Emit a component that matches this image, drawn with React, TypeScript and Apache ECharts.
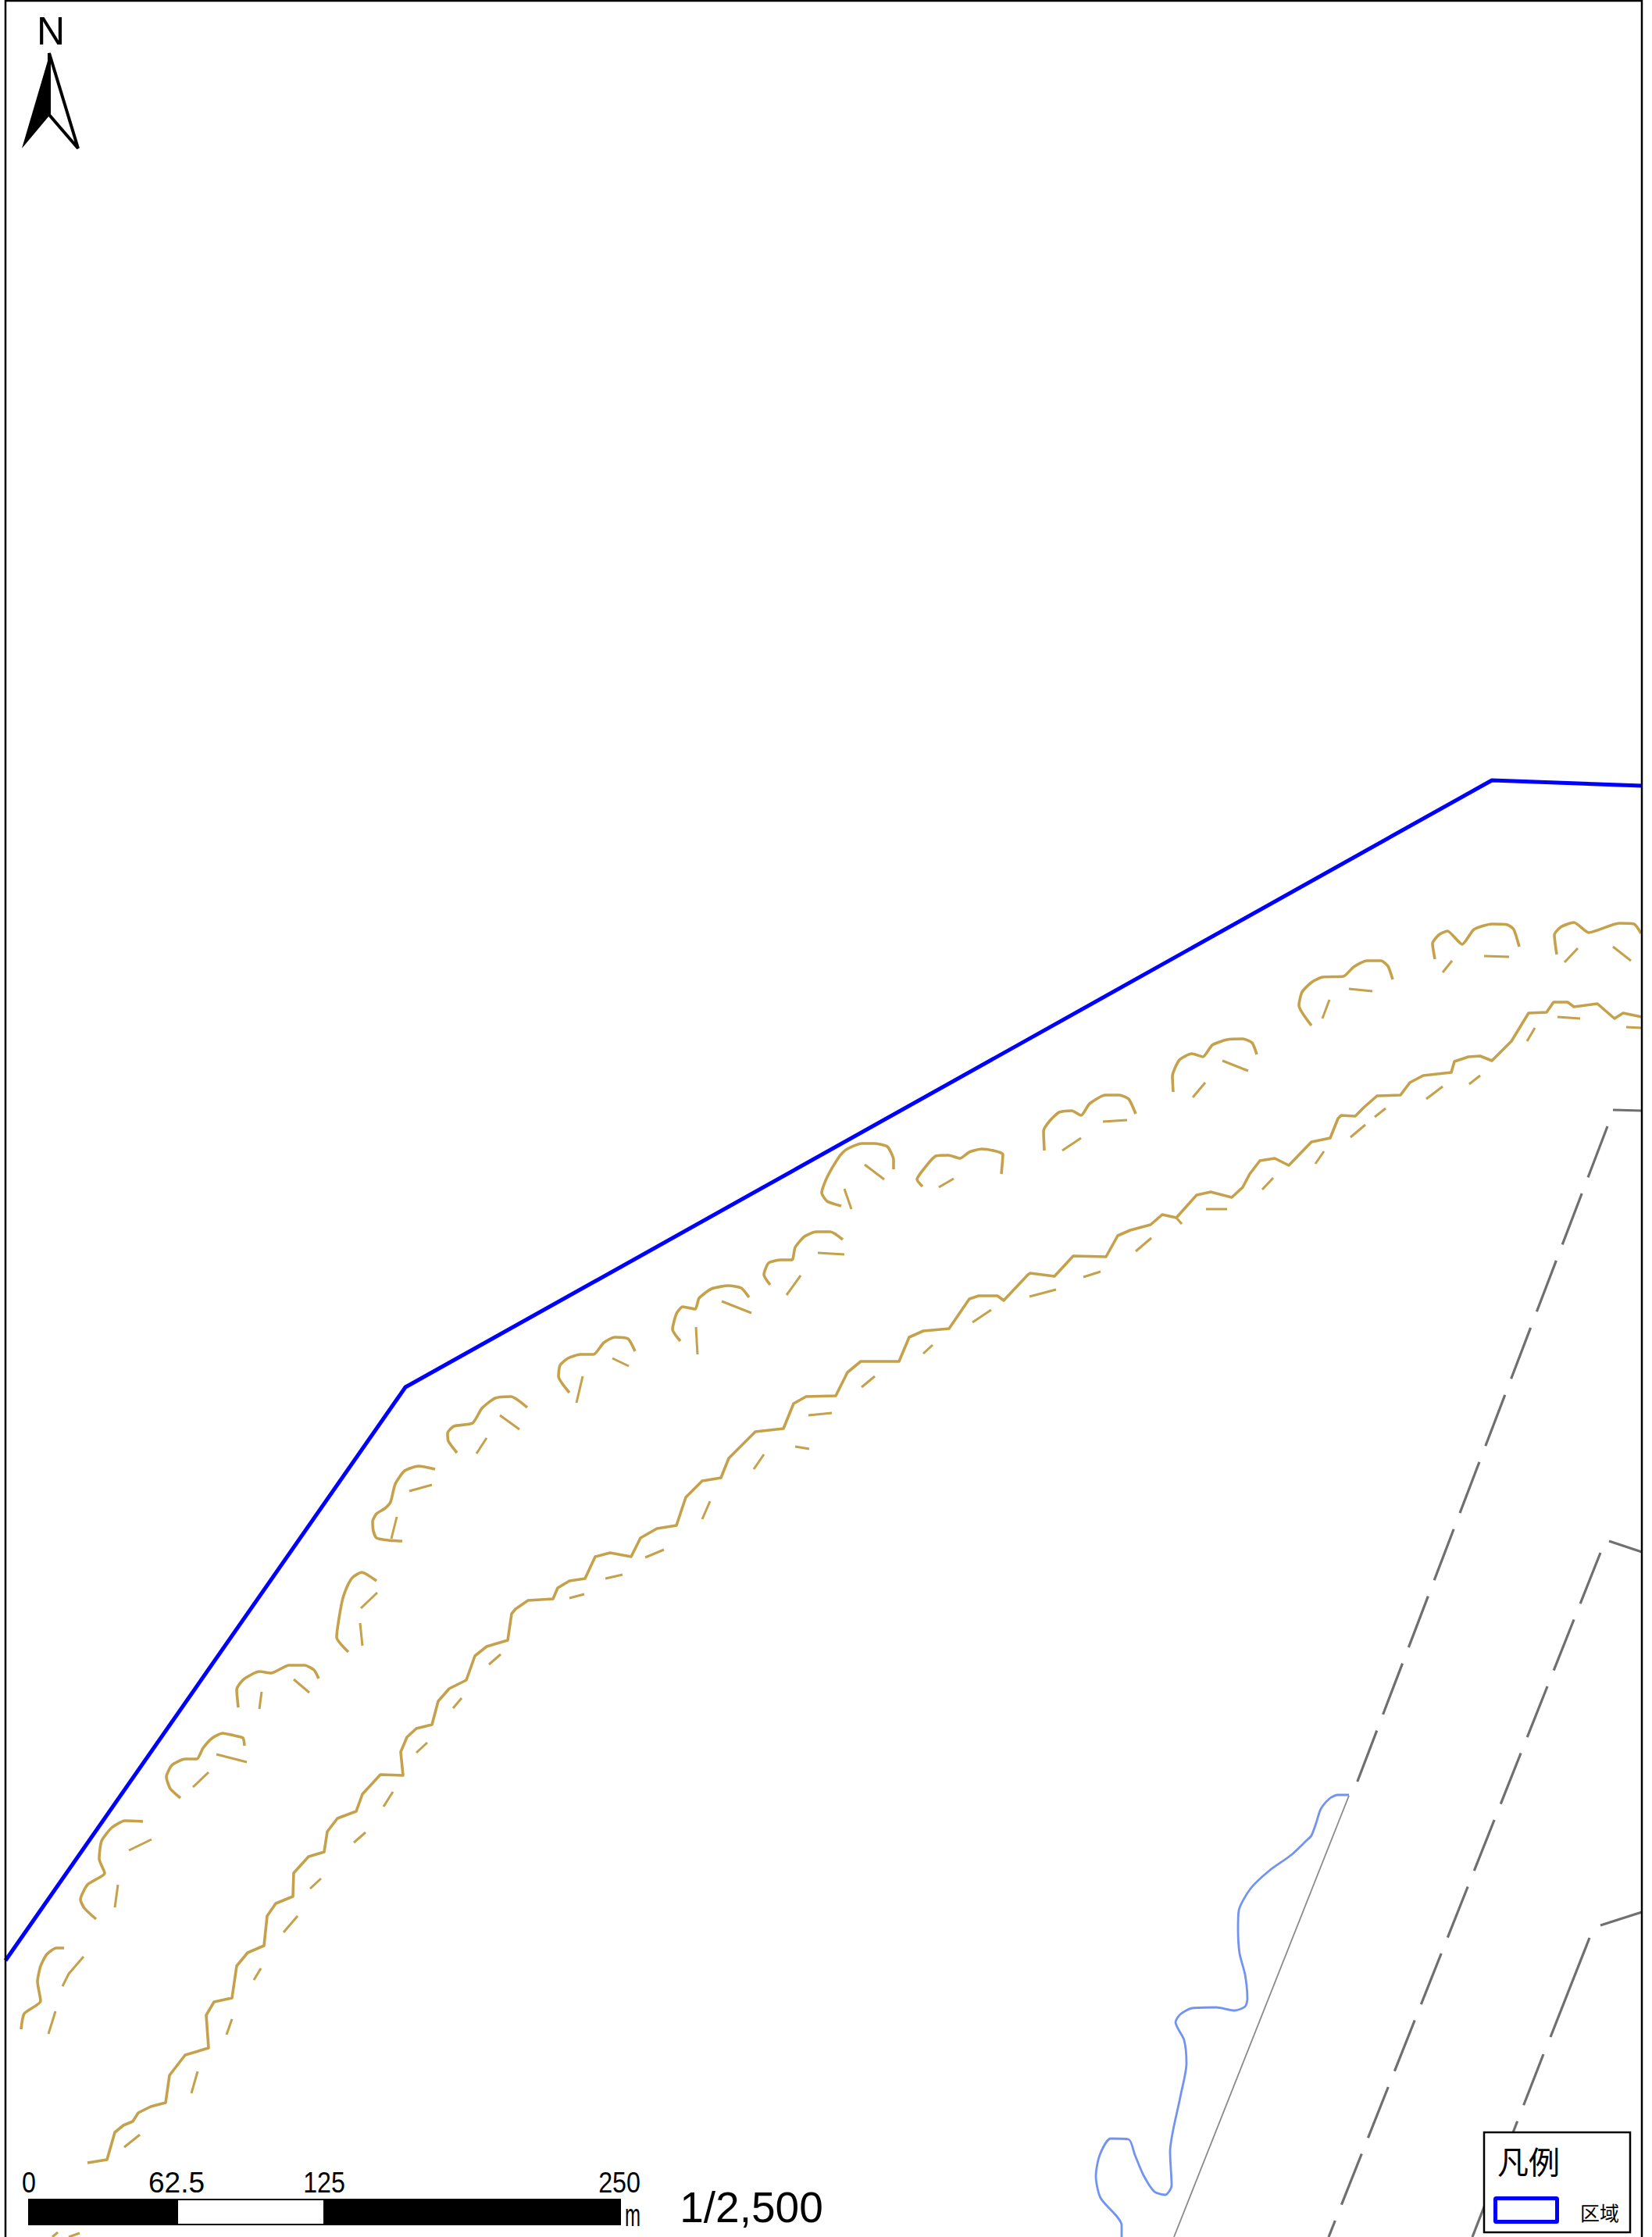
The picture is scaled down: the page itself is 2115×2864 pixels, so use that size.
import React, { useEffect, useRef } from "react";
import * as echarts from "echarts";

type Pt = [number, number];

const WIDTH = 2115;
const HEIGHT = 2864;

const areaBoundary: Pt[] = [[7, 2510], [519, 1776], [1910, 999], [2102, 1006]];

const ridgeLine: Pt[] = [
  [112, 2769], [137, 2765], [147, 2730], [158, 2721], [170, 2716], [177, 2705], [193, 2697], [212, 2692],
  [217, 2657], [237, 2631], [267, 2622], [264, 2580], [274, 2563], [297, 2558], [303, 2517], [317, 2500],
  [338, 2491], [342, 2453], [353, 2437], [375, 2428], [376, 2398], [395, 2377], [415, 2371], [419, 2345],
  [432, 2328], [456, 2319], [464, 2297], [487, 2272], [516, 2273], [513, 2243], [521, 2224], [533, 2213],
  [553, 2208], [561, 2178], [575, 2162], [597, 2151], [608, 2120], [623, 2108], [650, 2100], [655, 2066],
  [660, 2060], [676, 2049], [708, 2047], [714, 2033], [729, 2024], [749, 2021], [762, 1993], [781, 1988],
  [808, 1993], [820, 1969], [841, 1957], [866, 1953], [878, 1917], [899, 1896], [923, 1892], [933, 1867],
  [967, 1833], [1003, 1829], [1016, 1797], [1032, 1788], [1070, 1787], [1085, 1757], [1102, 1743], [1151, 1743],
  [1164, 1712], [1182, 1704], [1215, 1701], [1241, 1663], [1253, 1659], [1277, 1659], [1285, 1665], [1316, 1632],
  [1319, 1630], [1350, 1634], [1374, 1608], [1416, 1609], [1431, 1582], [1447, 1575], [1473, 1568], [1488, 1555],
  [1506, 1559], [1532, 1530], [1550, 1526], [1577, 1533], [1591, 1520], [1600, 1503], [1613, 1486], [1632, 1483],
  [1650, 1492], [1679, 1462], [1703, 1457], [1713, 1432], [1717, 1428], [1735, 1429], [1747, 1417], [1763, 1403],
  [1793, 1402], [1805, 1386], [1822, 1377], [1858, 1373], [1862, 1359], [1880, 1353], [1895, 1352], [1910, 1358],
  [1935, 1333], [1957, 1297], [1980, 1296], [1989, 1283], [2007, 1283], [2015, 1289], [2045, 1285], [2067, 1304],
  [2078, 1297], [2102, 1302],
];

const ridgeTicks: Pt[][] = [
  [[67, 2864], [74, 2858]], [[88, 2864], [102, 2859]], [[159, 2749], [179, 2733]], [[245, 2680], [253, 2652]],
  [[290, 2605], [297, 2585]], [[325, 2535], [334, 2520]], [[363, 2474], [381, 2453]], [[397, 2418], [411, 2405]],
  [[453, 2359], [468, 2346]], [[491, 2313], [503, 2294]], [[533, 2244], [547, 2231]], [[580, 2187], [591, 2174]],
  [[626, 2131], [641, 2118]], [[729, 2046], [748, 2041]], [[775, 2021], [797, 2016]], [[826, 1994], [850, 1984]],
  [[899, 1945], [909, 1922]], [[965, 1881], [978, 1862]], [[1018, 1852], [1036, 1855]], [[1035, 1812], [1065, 1809]],
  [[1103, 1776], [1120, 1762]], [[1182, 1733], [1194, 1722]], [[1245, 1693], [1269, 1677]], [[1318, 1660], [1352, 1651]],
  [[1387, 1635], [1409, 1628]], [[1454, 1602], [1474, 1585]], [[1506, 1559], [1513, 1567]], [[1544, 1548], [1571, 1548]],
  [[1616, 1523], [1630, 1508]], [[1684, 1490], [1695, 1474]], [[1729, 1456], [1748, 1440]], [[1760, 1430], [1774, 1419]],
  [[1826, 1407], [1847, 1391]], [[1881, 1388], [1895, 1377]], [[1955, 1333], [1965, 1316]], [[1994, 1302], [2023, 1304]],
  [[2082, 1315], [2102, 1316]],
];

const scarps: Pt[][] = [
  [[27, 2598], [31, 2578], [52, 2562], [48, 2537], [52, 2517], [60, 2502], [72, 2494], [82, 2494]],
  [[123, 2457], [108, 2443], [103, 2432], [112, 2413], [134, 2398], [127, 2380], [130, 2357], [143, 2340], [160, 2331], [183, 2332]],
  [[231, 2302], [218, 2290], [213, 2275], [220, 2260], [237, 2252], [252, 2252], [260, 2238], [272, 2225], [285, 2219], [300, 2222], [311, 2225], [313, 2235]],
  [[305, 2186], [303, 2163], [312, 2150], [332, 2140], [347, 2142], [370, 2132], [390, 2132], [402, 2138], [408, 2149]],
  [[446, 2115], [431, 2096], [438, 2050], [445, 2030], [452, 2019], [463, 2013], [482, 2024]],
  [[515, 1973], [497, 1972], [482, 1969], [478, 1960], [477, 1948], [482, 1938], [493, 1931], [500, 1923], [506, 1900], [518, 1883], [536, 1877], [557, 1881]],
  [[585, 1860], [574, 1845], [573, 1835], [581, 1826], [605, 1822], [617, 1803], [634, 1790], [654, 1788], [675, 1802]],
  [[729, 1783], [715, 1762], [717, 1748], [727, 1739], [743, 1734], [760, 1734], [773, 1719], [787, 1712], [804, 1714], [813, 1730]],
  [[871, 1717], [861, 1702], [866, 1682], [874, 1673], [890, 1676], [895, 1662], [911, 1650], [933, 1646], [949, 1649], [959, 1661]],
  [[986, 1645], [978, 1632], [984, 1617], [1000, 1613], [1014, 1613], [1018, 1597], [1030, 1583], [1045, 1577], [1063, 1577], [1079, 1587]],
  [[1077, 1544], [1059, 1538], [1052, 1527], [1059, 1507], [1075, 1480], [1083, 1472], [1103, 1464], [1119, 1464], [1136, 1468], [1144, 1485], [1144, 1497]],
  [[1181, 1519], [1174, 1510], [1184, 1495], [1198, 1480], [1214, 1479], [1229, 1483], [1241, 1475], [1257, 1471], [1284, 1478], [1282, 1503]],
  [[1337, 1473], [1336, 1448], [1344, 1435], [1356, 1424], [1372, 1422], [1384, 1428], [1395, 1413], [1415, 1402], [1433, 1402], [1445, 1407], [1454, 1426]],
  [[1502, 1398], [1501, 1378], [1510, 1357], [1526, 1349], [1540, 1353], [1552, 1338], [1571, 1331], [1591, 1330], [1603, 1335], [1609, 1350]],
  [[1679, 1313], [1663, 1287], [1667, 1270], [1680, 1257], [1693, 1251], [1720, 1250], [1733, 1238], [1750, 1230], [1768, 1230], [1777, 1237], [1783, 1254]],
  [[1837, 1228], [1834, 1208], [1842, 1197], [1853, 1192], [1872, 1209], [1887, 1190], [1910, 1183], [1930, 1184], [1938, 1190], [1945, 1212]],
  [[1993, 1222], [1990, 1197], [1998, 1187], [2015, 1181], [2034, 1194], [2073, 1182], [2092, 1183], [2101, 1195]],
];

const scarpTicks: Pt[][] = [
  [[80, 2543], [88, 2527], [107, 2505]], [[62, 2604], [71, 2575]], [[147, 2442], [151, 2413]], [[165, 2369], [194, 2355]],
  [[247, 2288], [267, 2269]], [[277, 2246], [316, 2256]], [[332, 2188], [335, 2166]], [[376, 2150], [396, 2167]],
  [[462, 2059], [483, 2039]], [[461, 2078], [464, 2107]], [[524, 1909], [553, 1901]], [[508, 1942], [501, 1970]],
  [[610, 1861], [623, 1841]], [[640, 1812], [665, 1830]], [[738, 1796], [746, 1762]], [[784, 1739], [805, 1749]],
  [[891, 1699], [893, 1734]], [[924, 1666], [962, 1681]], [[1007, 1658], [1025, 1633]], [[1047, 1604], [1081, 1606]],
  [[1081, 1522], [1090, 1548]], [[1107, 1491], [1132, 1510]], [[1202, 1520], [1221, 1509]], [[1360, 1473], [1384, 1457]],
  [[1412, 1436], [1443, 1434]], [[1527, 1405], [1543, 1386]], [[1565, 1358], [1598, 1371]], [[1693, 1304], [1702, 1280]],
  [[1727, 1266], [1757, 1269]], [[1847, 1245], [1859, 1230]], [[1900, 1224], [1932, 1225]], [[2003, 1232], [2020, 1214]],
  [[2065, 1212], [2088, 1230]],
];

const stream: Pt[] = [
  [1727, 2298], [1713, 2298], [1703, 2302], [1691, 2316], [1685, 2334], [1679, 2350], [1673, 2356], [1653, 2375],
  [1625, 2395], [1601, 2418], [1586, 2446], [1585, 2469], [1587, 2501], [1594, 2528], [1597, 2559], [1594, 2569],
  [1581, 2574], [1557, 2570], [1526, 2571], [1511, 2579], [1505, 2589], [1516, 2612], [1519, 2642], [1511, 2685],
  [1498, 2755], [1500, 2798], [1492, 2810], [1478, 2806], [1464, 2785], [1453, 2759], [1445, 2739], [1422, 2738],
  [1408, 2759], [1403, 2786], [1409, 2814], [1436, 2849], [1436, 2864],
];

const thinRoad: Pt[] = [[1727, 2299], [1503, 2864]];
const dashedRoads: Pt[][] = [
  [[2058, 1442], [1737, 2283]],
  [[2049, 1988], [1701, 2864]],
  [[1976, 2630], [1885, 2864]],
];
const solidRoadPieces: Pt[][] = [
  [[2065, 1421], [2102, 1422]],
  [[2060, 1973], [2102, 1987]],
  [[2049, 2465], [2102, 2448]],
  [[2035, 2481], [1985, 2608]],
];

const scaleLabels: [string, number, number][] = [["0", 37, 0.87], ["62.5", 226, 1], ["125", 415, 0.87], ["250", 793, 0.87]];
const scaleRatio = "1/2,500";
const legendTitle = "凡例";
const legendItem = "区域";

const TAN = "#c4a14a";
const GREY = "#6f6f6f";
const BLUE = "#0000ff";

const lineSeries = (data: Pt[], color: string, width: number, type: any = "solid", smooth: number | boolean = false) => ({
  type: "line",
  data,
  symbol: "none",
  silent: true,
  smooth,
  z: 2,
  lineStyle: { color, width, type, cap: "butt", join: "round" },
});

const label = (text: string, x: number, y: number, size: number, scaleX = 1, family = "Liberation Sans", align = "center") => ({
  type: "text",
  x,
  y,
  scaleX,
  z: 110,
  silent: true,
  style: { text, x: 0, y: 0, fontSize: size, fontFamily: family, fill: "#000", textAlign: align, textVerticalAlign: "middle" },
});

export default function App() {
  const ref = useRef<HTMLDivElement>(null);
  useEffect(() => {
    document.body.style.margin = "0";
    const chart = echarts.init(ref.current!, undefined, { renderer: "svg" });
    const option: any = {
      animation: false,
      backgroundColor: "#fff",
      grid: { left: 0, right: 0, top: 0, bottom: 0 },
      xAxis: { type: "value", min: 0, max: WIDTH, show: false },
      yAxis: { type: "value", min: 0, max: HEIGHT, inverse: true, show: false },
      series: [
        lineSeries(areaBoundary, BLUE, 5),
        lineSeries(ridgeLine, TAN, 3.6),
        ...ridgeTicks.map((d) => lineSeries(d, TAN, 3)),
        ...scarps.map((d) => lineSeries(d, TAN, 3.6, "solid", 0.2)),
        ...scarpTicks.map((d) => lineSeries(d, TAN, 3)),
        lineSeries(stream, "#7393f2", 2.8, "solid", 0.25),
        lineSeries(thinRoad, "#8a8a8a", 1.8),
        ...dashedRoads.map((d) => lineSeries(d, GREY, 3.2, [70, 22])),
        ...solidRoadPieces.map((d) => lineSeries(d, GREY, 3.2)),
      ],
      graphic: [
        { type: "polyline", z: 100, silent: true, shape: { points: [[7, 2864], [7, 1], [2102, 1], [2102, 2864]] }, style: { stroke: "#000", lineWidth: 2.5, fill: "none" } },
        label("N", 65, 40, 50),
        { type: "polygon", z: 100, silent: true, shape: { points: [[63, 68], [100, 190], [63, 147]] }, style: { fill: "#fff", stroke: "#000", lineWidth: 4 } },
        { type: "polygon", z: 101, silent: true, shape: { points: [[64, 68], [28, 190], [64, 147]] }, style: { fill: "#000", stroke: "none" } },
        { type: "rect", z: 100, silent: true, shape: { x: 36, y: 2815, width: 759, height: 34 }, style: { fill: "#000" } },
        { type: "rect", z: 101, silent: true, shape: { x: 228, y: 2817, width: 186, height: 30 }, style: { fill: "#fff" } },
        ...scaleLabels.map(([t, x, s]) => label(t, x, 2794, 37, s)),
        label("m", 810, 2836, 40, 0.6),
        label(scaleRatio, 962, 2826, 55, 1),
        { type: "rect", z: 105, silent: true, shape: { x: 1900, y: 2730, width: 187, height: 128 }, style: { fill: "#fff", stroke: "#000", lineWidth: 2.5 } },
        label(legendTitle, 1917, 2766, 40, 1, "Noto Sans CJK JP", "left"),
        { type: "rect", z: 106, silent: true, shape: { x: 1914.5, y: 2814.5, width: 79, height: 30, r: 1 }, style: { fill: "#fff", stroke: BLUE, lineWidth: 5 } },
        label(legendItem, 2023, 2832, 25, 1, "Noto Sans CJK JP", "left"),
      ],
    };
    chart.setOption(option);
    return () => chart.dispose();
  }, []);
  return <div ref={ref} style={{ width: WIDTH, height: HEIGHT }} />;
}
